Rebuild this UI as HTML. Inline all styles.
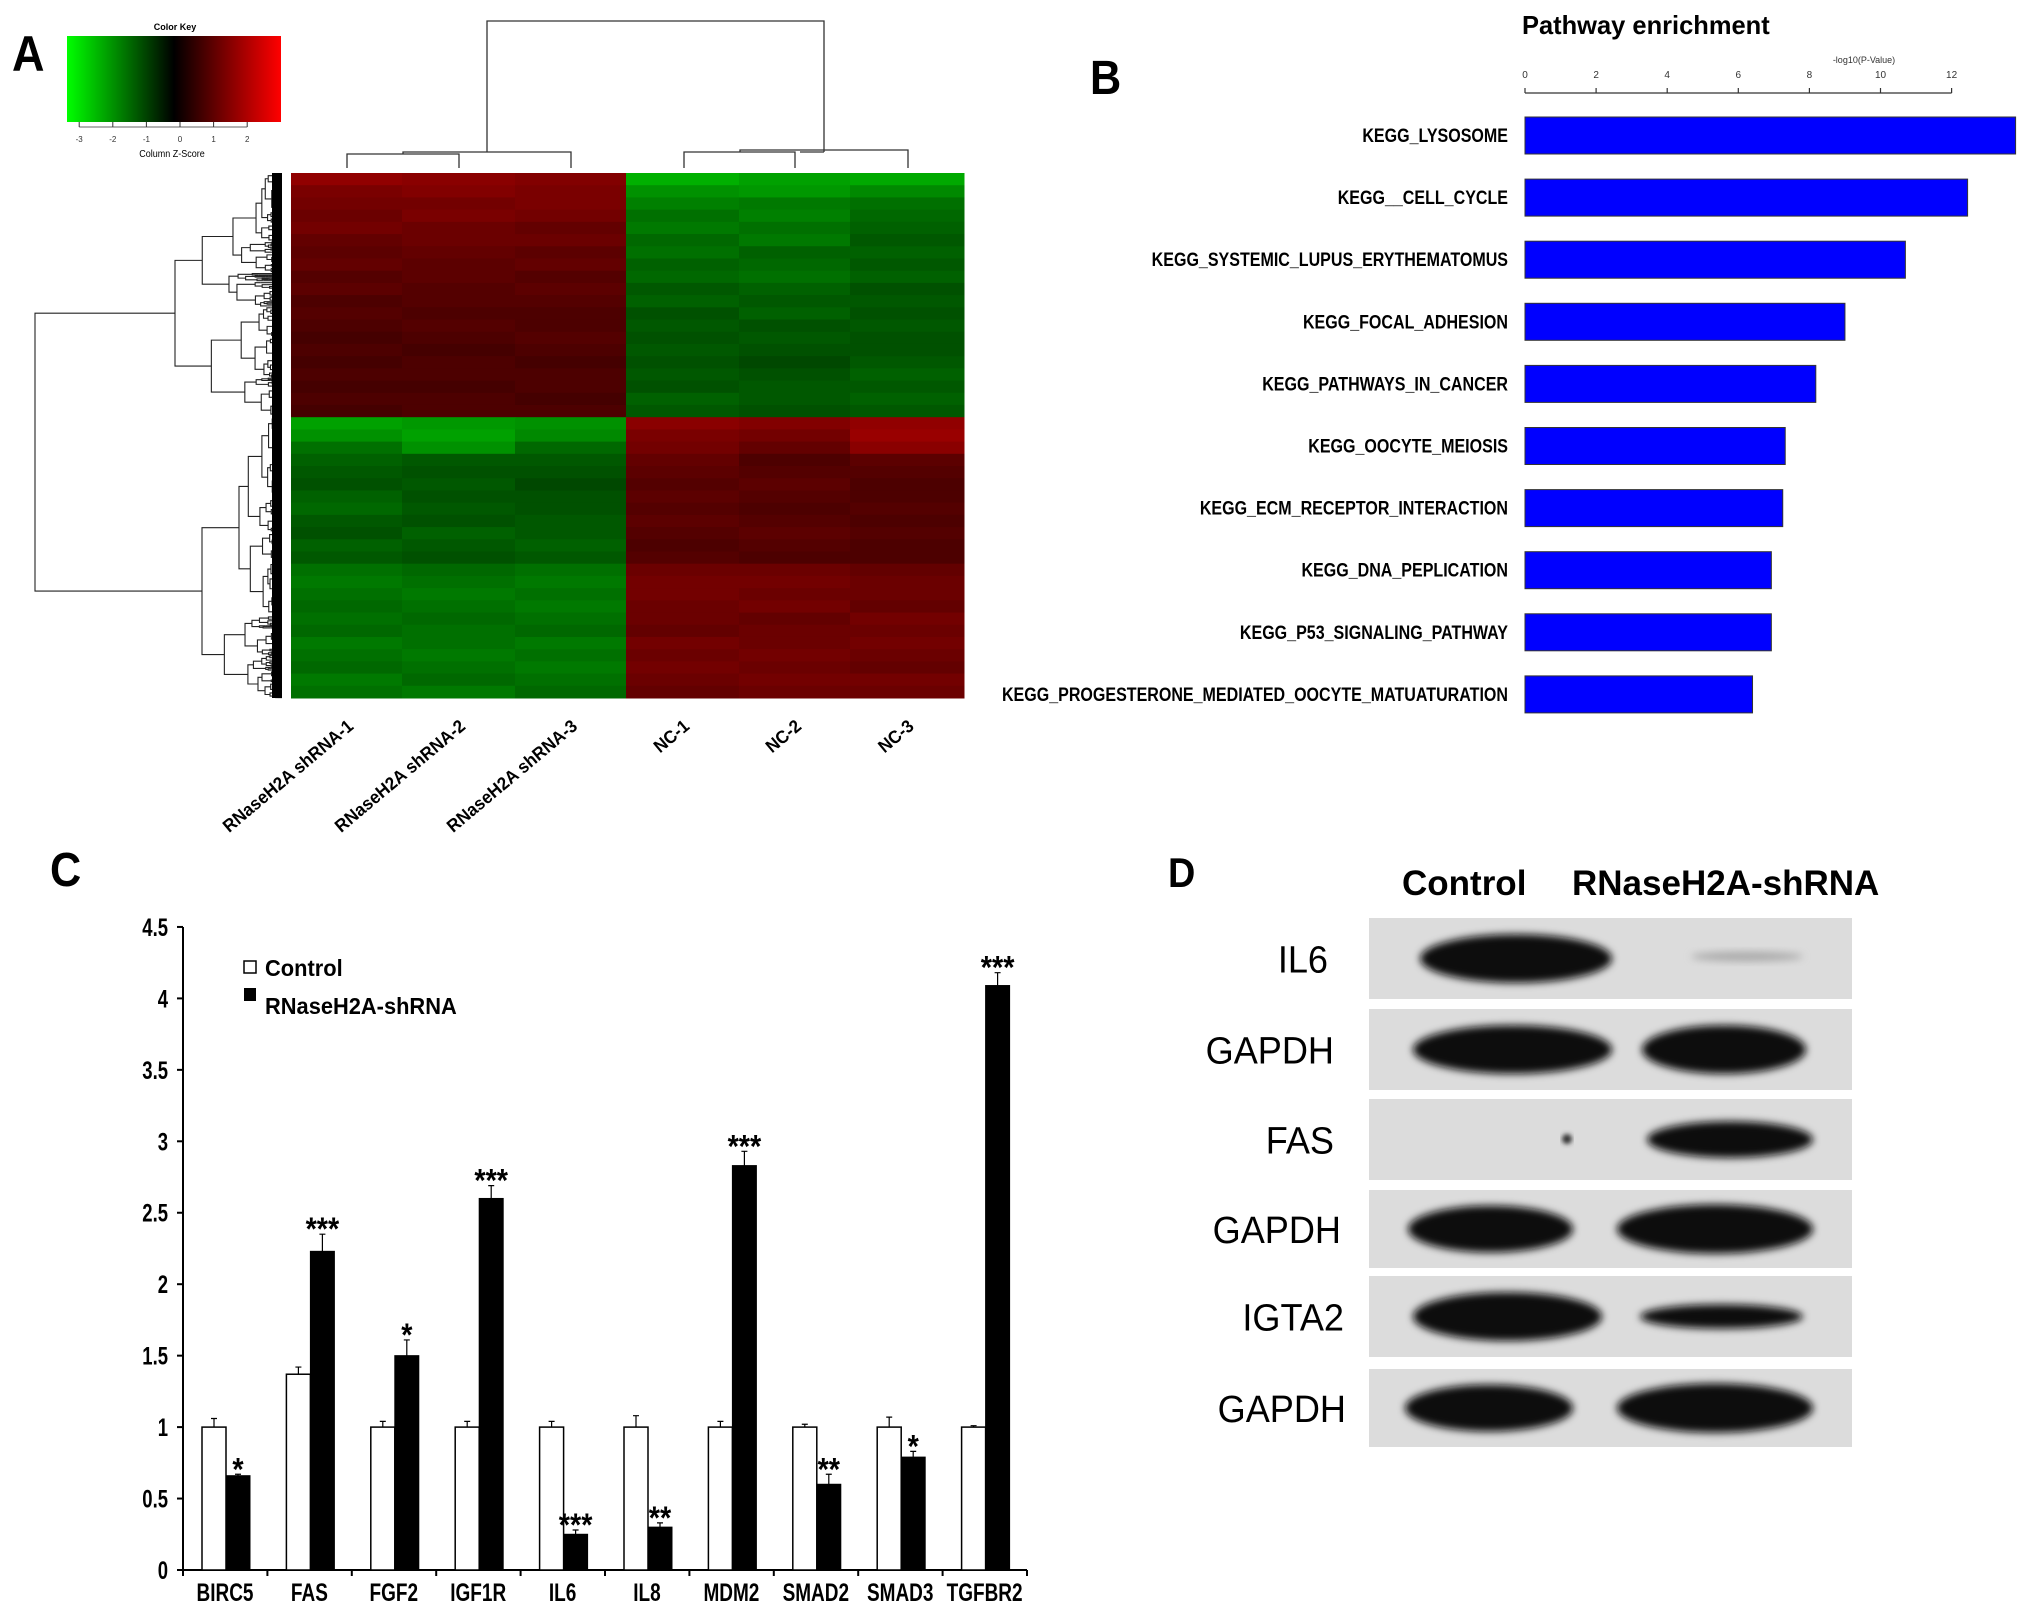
<!DOCTYPE html>
<html><head><meta charset="utf-8"><style>
html,body{margin:0;padding:0;background:#fff;}
svg{display:block;font-family:"Liberation Sans",Arial,sans-serif;}
</style></head><body>
<svg id="fig" width="2031" height="1615" viewBox="0 0 2031 1615" xmlns="http://www.w3.org/2000/svg">
<defs>
<linearGradient id="keyGrad" x1="0" x2="1" y1="0" y2="0">
<stop offset="0" stop-color="#00ff00"/><stop offset="0.5" stop-color="#000"/><stop offset="1" stop-color="#ff0000"/>
</linearGradient>
<filter id="blur3" x="-20%" y="-50%" width="140%" height="200%"><feGaussianBlur stdDeviation="4"/></filter>
<filter id="blur2" x="-20%" y="-50%" width="140%" height="200%"><feGaussianBlur stdDeviation="2.5"/></filter>
</defs>
<g id="panelA"></g>
<g id="panelB"></g>
<g id="panelC"></g>
<g id="panelD"></g>
</svg>
<script>
// ---------- Data ----------
const heatColumns = ["RNaseH2A shRNA-1","RNaseH2A shRNA-2","RNaseH2A shRNA-3","NC-1","NC-2","NC-3"];
const heatRows = [
[1.9,1.8,1.7,-2.2,-2.0,-2.1],[1.6,1.7,1.6,-1.8,-1.9,-1.7],[1.5,1.5,1.6,-1.6,-1.5,-1.4],[1.4,1.6,1.5,-1.4,-1.6,-1.3],
[1.5,1.4,1.3,-1.5,-1.4,-1.2],[1.3,1.4,1.4,-1.3,-1.5,-1.1],[1.2,1.3,1.2,-1.4,-1.2,-1.2],[1.3,1.2,1.3,-1.2,-1.3,-1.1],
[1.1,1.2,1.1,-1.3,-1.4,-1.2],[1.2,1.1,1.2,-1.1,-1.2,-1.0],[1.0,1.1,1.1,-1.2,-1.1,-1.1],[1.1,1.0,1.0,-1.0,-1.2,-1.0],
[1.0,1.1,1.0,-1.1,-1.0,-1.1],[0.9,1.0,1.1,-1.0,-1.1,-1.0],[1.0,0.9,1.0,-1.1,-1.0,-1.0],[0.9,1.0,0.9,-1.0,-0.9,-1.1],
[1.0,1.0,1.0,-1.1,-1.0,-1.2],[0.9,0.9,1.0,-1.0,-1.1,-1.1],[1.0,1.0,0.9,-1.2,-1.1,-1.2],[0.9,1.0,1.0,-1.1,-1.0,-1.1],
[-2.0,-1.9,-1.8,1.8,1.7,1.9],[-1.8,-2.0,-1.7,1.6,1.5,2.0],[-1.4,-1.8,-1.3,1.5,1.3,1.8],[-1.2,-1.1,-1.1,1.3,1.0,1.2],
[-1.1,-1.0,-1.0,1.2,1.1,1.1],[-1.0,-1.1,-0.9,1.1,1.2,1.0],[-1.2,-1.0,-1.0,1.2,1.1,1.0],[-1.3,-1.1,-1.0,1.1,1.0,1.1],
[-1.1,-1.0,-1.1,1.2,1.1,1.0],[-1.0,-1.2,-1.1,1.1,1.2,1.1],[-1.2,-1.1,-1.2,1.0,1.1,1.0],[-1.1,-1.0,-1.1,1.1,1.0,1.0],
[-1.4,-1.3,-1.4,1.4,1.4,1.3],[-1.5,-1.4,-1.5,1.5,1.5,1.4],[-1.4,-1.5,-1.4,1.5,1.4,1.4],[-1.3,-1.4,-1.5,1.4,1.5,1.3],
[-1.4,-1.3,-1.4,1.4,1.3,1.5],[-1.3,-1.4,-1.3,1.3,1.4,1.4],[-1.5,-1.4,-1.5,1.5,1.4,1.5],[-1.4,-1.5,-1.4,1.4,1.5,1.4],
[-1.3,-1.4,-1.5,1.5,1.4,1.3],[-1.5,-1.3,-1.4,1.4,1.5,1.5],[-1.4,-1.5,-1.3,1.3,1.4,1.4]
];
const keyTicks = [-3,-2,-1,0,1,2];

const pathways = ["KEGG_LYSOSOME","KEGG__CELL_CYCLE","KEGG_SYSTEMIC_LUPUS_ERYTHEMATOMUS","KEGG_FOCAL_ADHESION","KEGG_PATHWAYS_IN_CANCER","KEGG_OOCYTE_MEIOSIS","KEGG_ECM_RECEPTOR_INTERACTION","KEGG_DNA_PEPLICATION","KEGG_P53_SIGNALING_PATHWAY","KEGG_PROGESTERONE_MEDIATED_OOCYTE_MATUATURATION"];
const pathwayValues = [13.8,12.45,10.7,9.0,8.18,7.32,7.25,6.93,6.93,6.4];
const pathwayTicks = [0,2,4,6,8,10,12];

const genes = ["BIRC5","FAS","FGF2","IGF1R","IL6","IL8","MDM2","SMAD2","SMAD3","TGFBR2"];
const controlValues = [1,1.37,1,1,1,1,1,1,1,1];
const controlErrors = [0.06,0.05,0.04,0.04,0.04,0.08,0.04,0.02,0.07,0.01];
const shrnaValues = [0.66,2.23,1.50,2.60,0.25,0.30,2.83,0.60,0.79,4.09];
const shrnaErrors = [0.01,0.12,0.11,0.09,0.03,0.03,0.10,0.07,0.04,0.09];
const stars = ["*","***","*","***","***","**","***","**","*","***"];
const yTicks = [0,0.5,1,1.5,2,2.5,3,3.5,4,4.5];
const yTickLabels = ["0","0.5","1","1.5","2","2.5","3","3.5","4","4.5"];

const blotLabels = ["IL6","GAPDH","FAS","GAPDH","IGTA2","GAPDH"];
const blotControl = [1.0,1.0,0.0,1.0,1.0,1.0];
const blotShrna = [0.2,1.0,0.75,1.05,0.5,1.05];

// ---------- helpers ----------
const NS="http://www.w3.org/2000/svg";
function el(tag, attrs, parent){const e=document.createElementNS(NS,tag);for(const k in attrs)e.setAttribute(k,attrs[k]);parent.appendChild(e);return e;}
function txt(parent,x,y,s,size,opts){opts=opts||{};const sx=opts.sx||1;
 const t=el("text",{x:x/sx,y:y,"font-size":size,"font-weight":opts.weight||"bold","text-anchor":opts.anchor||"start",fill:opts.fill||"#000",transform:"scale("+sx+",1)"},parent);
 t.textContent=s;return t;}
function zcol(z){const v=Math.min(255,Math.round(Math.abs(z)/3*255*0.9));return z>=0?"rgb("+v+",0,0)":"rgb(0,"+Math.round(v*1.05)+",0)";}

// ---------- Panel A ----------
const A=document.getElementById("panelA");
let t=txt(A,12,71,"A",50,{sx:0.9});


const keyG=el("g",{},A);


el("rect",{x:67,y:36,width:214,height:86,fill:"url(#keyGrad)"},keyG);
txt(keyG,175,30,"Color Key",9,{anchor:"middle"});
const kx=v=>180+v*33.6;
keyTicks.forEach(v=>{el("line",{x1:kx(v),x2:kx(v),y1:122,y2:127,stroke:"#333","stroke-width":1},keyG);
 txt(keyG,kx(v),142,String(v),8,{anchor:"middle",weight:"normal",fill:"#333"});});
el("line",{x1:kx(-3),x2:kx(2),y1:127,y2:127,stroke:"#333","stroke-width":0.8},keyG);
txt(keyG,172,157,"Column Z-Score",10,{anchor:"middle",weight:"normal",sx:0.9});
const hmG=el("g",{},A);


const colEdges=[291,402,515,626,739,850,964];
const hmTop=173,hmBot=698,rowH=(hmBot-hmTop)/heatRows.length;
heatRows.forEach((row,r)=>{row.forEach((z,c)=>{
 const cell=el("rect",{x:colEdges[c],y:hmTop+r*rowH,width:colEdges[c+1]-colEdges[c]+0.5,height:rowH+0.5,fill:zcol(z)},hmG);
 
 
});});
heatColumns.forEach((s,c)=>{const cx=(colEdges[c]+colEdges[c+1])/2+8;
 const tt=el("text",{x:0,y:0,"font-size":18,"font-weight":"bold","text-anchor":"end",transform:"translate("+cx+",728) rotate(-40) scale(0.95,1)"},A);
 tt.textContent=s;
 
 
});
const td=el("g",{stroke:"#333","stroke-width":1.3,fill:"none"},A);


el("path",{d:"M487 152 V21 H824 V152 M347 168 V154 H459 V168 M403 154 V152 H571 V168 M684 168 V152 H795 V168 M740 152 V150 H908 V168 M487 152 H403 M824 152 H800"},td);
const rd=el("g",{stroke:"#222","stroke-width":1.1,fill:"none"},A);


let seed=7;function rnd(){seed=(seed*1103515245+12345)%2147483648;return seed/2147483648;}
function clade(yT,yB,xJ,depth){
 if(yB-yT<2.2||depth>12){el("line",{x1:xJ,x2:282,y1:(yT+yB)/2,y2:(yT+yB)/2},rd);return (yT+yB)/2;}
 const s=yT+(yB-yT)*(0.25+rnd()*0.5);
 const x1=xJ+(282-xJ)*(0.15+rnd()*0.35), x2=xJ+(282-xJ)*(0.15+rnd()*0.35);
 const m1=clade(yT,s,x1,depth+1), m2=clade(s,yB,x2,depth+1);
 el("path",{d:"M"+x1+" "+m1+" H"+xJ+" V"+m2+" H"+x2},rd);
 return (m1+m2)/2;}
const mTop=clade(hmTop,417,175,0), mBot=clade(417,hmBot,202,0);
el("path",{d:"M175 "+mTop+" H35 V"+mBot+" H202"},rd);
el("rect",{x:272,y:hmTop,width:10,height:hmBot-hmTop,fill:"#000",stroke:"none"},rd);

// ---------- Panel B ----------
const B=document.getElementById("panelB");
t=txt(B,1090,94,"B",48,{sx:0.9});


t=txt(B,1522,34,"Pathway enrichment",26,{sx:0.98});


const bx=v=>1525+v*35.55;
const axB=el("g",{},B);


el("line",{x1:bx(0),x2:bx(12),y1:93,y2:93,stroke:"#333","stroke-width":1.2},axB);
pathwayTicks.forEach(v=>{el("line",{x1:bx(v),x2:bx(v),y1:88,y2:93,stroke:"#333","stroke-width":1.2},axB);
 txt(axB,bx(v),78,String(v),10,{anchor:"middle",weight:"normal",fill:"#333"});});
t=txt(axB,1864,63,"-log10(P-Value)",9,{anchor:"middle",weight:"normal",fill:"#333"});


pathways.forEach((p,i)=>{const y=117+i*62.1;
 const bar=el("rect",{x:bx(0),y:y,width:bx(pathwayValues[i])-bx(0),height:37,fill:"#0000ff",stroke:"#333","stroke-width":1},B);
 
 
 const lb=txt(B,1508,y+25,p,19,{anchor:"end",sx:0.845});
 
 
});

// ---------- Panel C ----------
const C=document.getElementById("panelC");
t=txt(C,50,886,"C",48,{sx:0.9});


const y0=1570, unit=142.9, cy=v=>y0-v*unit, gx=i=>183+i*84.4;
const axC=el("g",{stroke:"#000","stroke-width":2},C);


el("line",{x1:183,x2:183,y1:cy(4.5),y2:y0},axC);
el("line",{x1:183,x2:1027,y1:y0,y2:y0},axC);
yTicks.forEach((v,i)=>{el("line",{x1:177,x2:183,y1:cy(v),y2:cy(v)},axC);
 const l=txt(C,168,cy(v)+9,yTickLabels[i],25,{anchor:"end",sx:0.74});
 
 });
genes.forEach((g,i)=>{el("line",{x1:gx(i),x2:gx(i),y1:y0,y2:y0+6},axC);
 if(i===genes.length-1)el("line",{x1:gx(i+1),x2:gx(i+1),y1:y0,y2:y0+6},axC);
 const xl=txt(C,gx(i)+42,1601,g,25,{anchor:"middle",sx:0.76});
 
 
 const x1=gx(i)+19,x2=gx(i)+43;
 const cb=el("rect",{x:x1,y:cy(controlValues[i]),width:24,height:controlValues[i]*unit,fill:"#fff",stroke:"#000","stroke-width":1.5},C);
 
 
 const ce=el("path",{d:"M"+(x1+12)+" "+cy(controlValues[i])+" V"+cy(controlValues[i]+controlErrors[i])+" M"+(x1+9)+" "+cy(controlValues[i]+controlErrors[i])+" H"+(x1+15),stroke:"#000","stroke-width":1.2,fill:"none"},C);
 
 
 const sb=el("rect",{x:x2,y:cy(shrnaValues[i]),width:24,height:shrnaValues[i]*unit,fill:"#000",stroke:"#000","stroke-width":1},C);
 
 
 const se=el("path",{d:"M"+(x2+12)+" "+cy(shrnaValues[i])+" V"+cy(shrnaValues[i]+shrnaErrors[i])+" M"+(x2+9)+" "+cy(shrnaValues[i]+shrnaErrors[i])+" H"+(x2+15),stroke:"#000","stroke-width":1.2,fill:"none"},C);
 
 
 const st=txt(C,x2+12,cy(shrnaValues[i]+shrnaErrors[i])+6,stars[i],32,{anchor:"middle",sx:0.9});
 
 
});
const lg=el("g",{},C);


el("rect",{x:244,y:961,width:12,height:12,fill:"#fff",stroke:"#000","stroke-width":1.5},lg);
t=txt(lg,265,976,"Control",23,{sx:0.95});


el("rect",{x:244,y:988,width:12,height:13,fill:"#000"},lg);
t=txt(lg,265,1014,"RNaseH2A-shRNA",23,{weight:"bold",sx:0.95});



// ---------- Panel D ----------
const D=document.getElementById("panelD");
t=txt(D,1168,887,"D",42,{sx:0.9});


t=txt(D,1402,895,"Control",35,{sx:1.0});


t=txt(D,1572,895,"RNaseH2A-shRNA",35,{sx:1.0});


const strips=[[918,81],[1009,81],[1099,81],[1190,78],[1276,81],[1369,78]];
const labelRight=[1328,1334,1334,1341,1344,1346];
const ctrlX=[[1420,1612],[1413,1612],[1413,1612],[1408,1573],[1413,1602],[1405,1573]];
const shX=[[1691,1803],[1642,1806],[1647,1813],[1617,1813],[1640,1803],[1617,1813]];
blotLabels.forEach((lab,i)=>{const [sy,sh]=strips[i];
 const sg=el("g",{},D);
 
 
 el("rect",{x:1369,y:sy,width:483,height:sh,fill:"#dcdcdc"},sg);
 const cyy=sy+sh/2;
 if(blotControl[i]>0){const w=ctrlX[i][1]-ctrlX[i][0];
  el("ellipse",{cx:ctrlX[i][0]+w/2,cy:cyy,rx:w/2,ry:sh*0.3*blotControl[i],fill:"#111",filter:"url(#blur3)"},sg);}
 else {el("circle",{cx:1567,cy:sy+40,r:5,fill:"#333",filter:"url(#blur2)"},sg);}
 const w2=shX[i][1]-shX[i][0];
 const dark=blotShrna[i]<0.3;
 el("ellipse",{cx:shX[i][0]+w2/2,cy:dark?cyy-2:cyy,rx:w2/2,ry:Math.max(4,sh*0.3*blotShrna[i]),fill:dark?"#aaa":"#111",filter:"url(#blur3)"},sg);
 const l=txt(D,labelRight[i],cyy+14,lab,38,{anchor:"end",weight:"normal",sx:0.95});
 
 
});
</script>
</body></html>
